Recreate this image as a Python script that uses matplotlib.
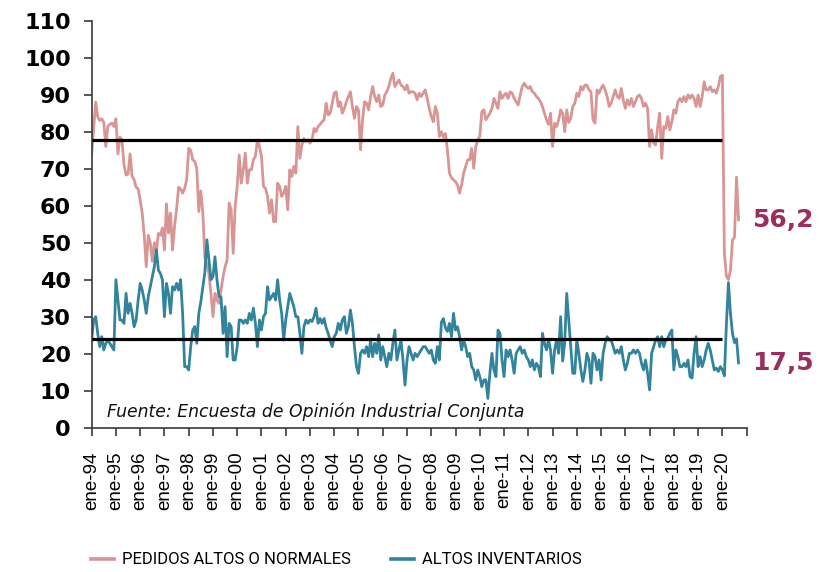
import numpy as np
import matplotlib
matplotlib.use("Agg")
import matplotlib.pyplot as plt
from matplotlib.lines import Line2D

# ---------------- data (monthly, ene-94 ... sep-20) ----------------
PEDIDOS = [
    74, 81, 88, 84, 83, 83.5, 82.5, 76, 81.4, 82, 82.3, 81.4,
    83.5, 74, 78.5, 77.8, 71, 68.3, 68.5, 74, 68, 67, 65, 64.5,
    61.5, 58, 52, 43.5, 52, 50, 45, 50, 47.5, 52.5, 52, 54,
    48, 60.5, 52.6, 58, 48, 54.4, 59, 65, 64.5, 63.4, 64.7, 67,
    75.5, 75, 72.4, 72, 70, 58.4, 64, 58, 46, 44, 41.7, 36.3,
    30, 36.3, 34.5, 33.6, 37.2, 40.8, 43.5, 45.3, 60.7, 58.9, 47.1, 59.8,
    65.2, 73.7, 66.1, 69.7, 74.2, 66.1, 69.7, 69.7, 72.4, 73.3, 77.8, 76,
    73.3, 65.2, 64.7, 62.5, 58, 61.6, 55.7, 55.7, 66.1, 65.2, 62.5, 63.4,
    65.2, 58.9, 69.7, 67.9, 70.6, 68.8, 81.4, 72.8, 76.4, 78.2, 77.3, 77.8,
    76.9, 77.8, 80.9, 80, 81.4, 82, 82.7, 83.2, 87.7, 84.5, 85, 87.7,
    90.4, 90.8, 86.8, 88.1, 85, 86.3, 88.1, 89.5, 90.8, 86.8, 83.6, 86.8,
    85.9, 75.1, 83.2, 88.1, 87.7, 85.9, 89.5, 92.2, 89.5, 88.1, 89.9, 86.8,
    87.2, 89.9, 90.8, 92.2, 94.4, 95.8, 92.2, 93.1, 94, 92.6, 92.2, 91.3,
    92.6, 90.4, 90.8, 90.8, 90.4, 88.6, 90.4, 89.5, 90.4, 91.3, 89, 86.3,
    84.1, 82.7, 86.8, 85, 78.7, 80, 78.5, 79.5, 75, 68.8, 67.5, 67,
    66.5, 65.6, 63.4, 65.6, 68.8, 70.6, 72.4, 72.4, 75.5, 70.1, 76, 77.8,
    78.7, 85.4, 85.9, 83.2, 84.1, 85, 86.3, 89, 87.7, 86.3, 90.8, 89,
    89.9, 90.4, 89, 90.8, 90.4, 89, 88.1, 87.2, 89.9, 92.2, 93.1, 92.2,
    91.7, 92.2, 90.8, 90.4, 89.5, 89, 88.1, 86.8, 85, 83.2, 82, 85,
    76, 82.3, 81.4, 83.2, 85.9, 85, 80, 85.9, 82.5, 83.6, 86.8, 87.7,
    90.4, 89.5, 92.2, 91.3, 92.6, 92.6, 91.3, 90.8, 83.2, 82.3, 91.3, 90.4,
    91.7, 92.6, 91.3, 89.5, 86.8, 87.7, 89.5, 91.3, 89.5, 89, 91.7, 88.6,
    86.3, 88.6, 87.2, 89, 86.8, 88.1, 89.5, 89.9, 89, 86.8, 87.7, 86.3,
    76, 80.5, 76.9, 76.4, 81.4, 85, 72.8, 81.4, 80.9, 84.1, 80.5, 82.7,
    85.9, 85, 88.1, 89, 88.1, 89.5, 88.1, 90, 89, 89.9, 89, 86.8,
    89.9, 86.8, 89.5, 93.5, 91.3, 91.3, 92.2, 90.8, 91.3, 90.4, 92.2, 94.9,
    95.3, 47, 41, 40, 42.6, 50.7, 51.5, 67.7, 56.2,
]

INVENTARIOS = [
    23.7, 29.1, 30, 25.5, 21.9, 24.6, 21, 22.8, 23.7, 22.8, 21.9, 21,
    40, 34.5, 29.1, 29.1, 28.2, 36.3, 30.9, 33.6, 30.9, 27.3, 29.1, 34.5,
    39, 37.2, 34.5, 30.9, 35.4, 38.1, 40.8, 43.5, 48.1, 42.6, 41.7, 40,
    30, 39, 36.3, 30.9, 38.1, 37.2, 39, 37.2, 40, 30.9, 16.5, 16.5,
    15.6, 21.9, 26.4, 27.3, 22.8, 30.9, 34, 38, 42, 50.8, 45.3, 40,
    40.8, 46.2, 40, 35.4, 35.4, 25.5, 32.7, 19.2, 28.2, 27.3, 18.3, 18.3,
    21.9, 29.1, 29.1, 28.2, 29.1, 28.2, 30.9, 29.1, 32.3, 28.2, 21.9, 29.1,
    26.4, 30, 30.9, 38.1, 34.5, 35.4, 36.3, 34.5, 40, 34.5, 30.9, 23.7,
    29.1, 32.7, 36.3, 34.5, 32.7, 30, 30, 25.5, 20.1, 27.3, 29.1, 28.2,
    29.1, 28.7, 30, 32.3, 28.2, 29.5, 28.2, 29.5, 27, 25.5, 23.5, 21.9,
    24.6, 25.5, 28.2, 26.4, 29.1, 30, 25.5, 27.3, 31.8, 28.2, 21.9, 16.5,
    14.7, 20.1, 21, 20.1, 21.9, 19.2, 23.7, 19.2, 22.8, 20.1, 25.1, 18.3,
    21.9, 19.2, 16.5, 20.1, 18.3, 22.8, 26.4, 18.3, 21, 23.7, 18.3, 11.5,
    18.3, 21.9, 20.1, 18.3, 20.1, 19.2, 20.1, 21, 21.9, 21.9, 21, 20.1,
    21, 18.3, 17.4, 21.9, 18.3, 28.5, 29.5, 27, 26, 28.2, 24.6, 30.9,
    26.4, 27.3, 24.6, 21, 23.7, 21.9, 19.2, 20.1, 16.5, 15.6, 12.9, 15.6,
    13.8, 11.1, 12.9, 12.9, 7.9, 14.7, 20.1, 15.6, 13.8, 26.4, 25.5, 18.3,
    13.8, 21, 19.2, 21, 18.3, 14.7, 20.1, 21, 21.9, 20.1, 21, 19.2,
    18.3, 16.5, 18.3, 15.6, 17.4, 16.5, 13.8, 25.5, 22.8, 21, 23.7, 21,
    14.7, 21, 23.7, 20.1, 30, 18, 23, 36.3, 29, 22, 14.7, 14.7,
    23.7, 20.1, 15.6, 12.5, 15.6, 20.1, 18.3, 12, 20.1, 19.2, 15.6, 18.3,
    12.9, 20.1, 22.8, 24.6, 23.7, 23.7, 21.9, 20.1, 21, 20.1, 21.9, 18.3,
    15.6, 17.4, 20.1, 20.1, 21, 20.1, 21, 20.1, 17.4, 15.6, 18.3, 14.7,
    10.2, 20.1, 21.9, 23.7, 24.6, 21.9, 24.6, 21.9, 23.7, 24.2, 25.5, 26.4,
    15.6, 21, 19.2, 16.5, 16.5, 17.4, 16.5, 18.3, 13.8, 13.4, 20.1, 24.6,
    16.5, 19.2, 16.5, 18.3, 21, 22.8, 21, 18.3, 15.6, 16.1, 15.2, 16.5,
    15.6, 14, 28, 39.2, 30.9, 25.5, 23, 24, 17.5,
]

PEDIDOS_PROMEDIO = 77.7
INVENTARIOS_PROMEDIO = 24.0

TICK_LABELS = [
    "ene-94", "ene-95", "ene-96", "ene-97", "ene-98", "ene-99", "ene-00",
    "ene-01", "ene-02", "ene-03", "ene-04", "ene-05", "ene-06", "ene-07",
    "ene-08", "ene-09", "ene-10", "ene-11", "ene-12", "ene-13", "ene-14",
    "ene-15", "ene-16", "ene-17", "ene-18", "ene-19", "ene-20", "",
]
Y_TICKS = [0, 10, 20, 30, 40, 50, 60, 70, 80, 90, 100, 110]
LAST_LABELS = ["56,2", "17,5"]
SERIES_NAMES = ["PEDIDOS ALTOS O NORMALES", "ALTOS INVENTARIOS"]
SOURCE = "Fuente: Encuesta de Opinión Industrial Conjunta"

# ---------------- style ----------------
PINK = "#D99594"
TEAL = "#31849B"
LABEL_COLOR = "#9B2D5F"
AXIS_COLOR = "#3a3a3a"
MONTHS_PER_YEAR = 12

fig = plt.figure(figsize=(8.25, 5.72), dpi=100)
ax = fig.add_axes([0.1111, 0.2523, 0.7939, 0.7115])

x = np.arange(len(PEDIDOS))
ax.plot(x, PEDIDOS, color=PINK, lw=2.0, solid_joinstyle="round", zorder=2)
ax.plot(x, INVENTARIOS, color=TEAL, lw=2.0, solid_joinstyle="round", zorder=2)

tick_pos = np.arange(len(TICK_LABELS)) * MONTHS_PER_YEAR
mean_end = tick_pos[-2]
ax.hlines([PEDIDOS_PROMEDIO, INVENTARIOS_PROMEDIO], 0, mean_end,
          color="black", lw=2.3, zorder=3)

ax.set_xlim(0, tick_pos[-1])
ax.set_ylim(Y_TICKS[0], Y_TICKS[-1])
ax.set_yticks(Y_TICKS)
ax.set_xticks(tick_pos)
ax.set_xticklabels(TICK_LABELS, rotation=90, fontsize=13.5,
                   family=["Liberation Sans", "DejaVu Sans"])
for lbl in ax.get_yticklabels():
    lbl.set_fontweight("bold")
    lbl.set_fontsize(16)

for s in ["top", "right"]:
    ax.spines[s].set_visible(False)
for s in ["left", "bottom"]:
    ax.spines[s].set_color(AXIS_COLOR)
    ax.spines[s].set_linewidth(1.2)
ax.tick_params(axis="both", direction="out", length=6, width=1.2,
               color=AXIS_COLOR, labelcolor="black")
ax.tick_params(axis="y", pad=9)
ax.tick_params(axis="x", pad=11)

# last values
for vals, txt in zip([PEDIDOS, INVENTARIOS], LAST_LABELS):
    ax.annotate(txt, xy=(x[-1], vals[-1]), xytext=(10, 0),
                textcoords="offset points", va="center", ha="left",
                fontsize=18, fontweight="bold", color=LABEL_COLOR,
                annotation_clip=False)

# source
ax.text(0.024, 0.038, SOURCE, transform=ax.transAxes, fontsize=12.4,
        style="italic", ha="left", va="center", color="#111111")

# legend
handles = [Line2D([0], [0], color=PINK, lw=2.6),
           Line2D([0], [0], color=TEAL, lw=2.6)]
fig.legend(handles, SERIES_NAMES, loc="center", bbox_to_anchor=(0.408, 0.021),
           ncol=2, frameon=False, handlelength=1.35, handletextpad=0.5,
           columnspacing=2.4,
           prop={"family": ["Liberation Sans Narrow", "Roboto", "DejaVu Sans"],
                 "size": 12})

fig.savefig("out.png", dpi=100)
